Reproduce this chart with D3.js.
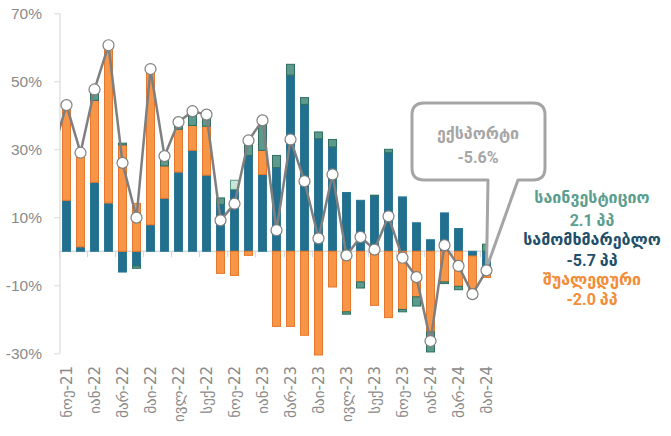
<!DOCTYPE html>
<html>
<head>
<meta charset="utf-8">
<script src="https://cdn.jsdelivr.net/npm/d3@7"></script>
<style>
  body { margin: 0; background: #fff; }
  svg { display: block; font-family: Roboto, 'DejaVu Sans', sans-serif; }
</style>
</head>
<body>
<div id="chart"></div>
<script>
const months = ['ნოე-21', 'დეკ-21', 'იან-22', 'თებ-22', 'მარ-22', 'აპრ-22', 'მაი-22', 'ივნ-22',
  'ივლ-22', 'აგვ-22', 'სექ-22', 'ოქტ-22', 'ნოე-22', 'დეკ-22', 'იან-23', 'თებ-23', 'მარ-23',
  'აპრ-23', 'მაი-23', 'ივნ-23', 'ივლ-23', 'აგვ-23', 'სექ-23', 'ოქტ-23', 'ნოე-23', 'დეკ-23',
  'იან-24', 'თებ-24', 'მარ-24', 'აპრ-24', 'მაი-24'];

// contributions, percentage points
const consumption = [15.0, 1.3, 20.3, 14.2, -6.1, -4.3, 7.8, 15.6, 23.3, 29.7, 22.4, 13.8, 18.2,
  28.2, 22.6, 24.6, 51.8, 43.2, 33.1, 30.7, 17.3, 15.0, 16.3, 29.0, 16.0, 8.4, 3.4, 11.3, 6.7,
  -1.4, -5.7];
const intermediate = [27.0, 27.0, 24.1, 45.5, 31.3, 14.1, 46.0, 9.5, 12.6, 7.3, 14.4, -6.5, -7.1,
  -1.2, 7.1, -22.1, -22.1, -24.7, -30.5, -10.5, -17.8, -9.0, -15.9, -19.5, -17.1, -13.4, -23.7,
  -9.0, -10.3, -11.7, -2.0];
const investment = [0, 0, 2.5, 0, 0.5, -0.7, 0, 2.5, 1.2, 3.5, 2.8, 1.9, 2.7, 3.2, 8.0, 3.6, 3.2,
  2.0, 2.0, 2.2, -0.7, -1.8, 0.2, 1.0, -0.7, -2.7, -5.9, -0.5, -1.0, 0, 2.1];

// total export growth, %
const exportGrowth = [43.0, 29.0, 47.6, 60.6, 26.0, 9.9, 53.6, 28.0, 38.0, 41.2, 40.2, 9.1, 14.0,
  32.6, 38.5, 6.2, 32.9, 20.6, 3.8, 22.6, -1.2, 4.2, 0.5, 10.3, -1.9, -7.6, -26.4, 1.8, -4.3,
  -12.6, -5.6];
const previousExportGrowth = 29.0; // month before the window, only its segment shows

const yTicks = [-30, -10, 10, 30, 50, 70];
const paleInvestmentMonths = ['ნოე-22'];

const WIDTH = 671;
const HEIGHT = 436;
const LEFT = 59.5;
const RIGHT = 493.5;
const TOP = 13.3;
const BOTTOM = 353.3;

const colors = {
  consumption: '#236f8e',
  intermediate: '#f79646',
  investment: '#5b9a8c',
};
const strokes = {
  consumption: '#2a7796',
  intermediate: '#e8772c',
  investment: '#2f6e5f',
};

const rows = months.map((month, i) => ({
  month,
  consumption: consumption[i],
  intermediate: intermediate[i],
  investment: investment[i],
}));

const series = d3
  .stack()
  .keys(['consumption', 'intermediate', 'investment'])
  .offset(d3.stackOffsetDiverging)(rows);

const xScale = d3
  .scaleBand()
  .domain(months)
  .range([LEFT, RIGHT])
  .paddingInner(0.36)
  .paddingOuter(0.18);
const yScale = d3.scaleLinear().domain([-30, 70]).range([BOTTOM, TOP]);

const center = (month) => xScale(month) + xScale.bandwidth() / 2;

const svg = d3
  .select('#chart')
  .append('svg')
  .attr('width', WIDTH)
  .attr('height', HEIGHT);

svg
  .append('defs')
  .append('clipPath')
  .attr('id', 'plot-clip')
  .append('rect')
  .attr('x', 60)
  .attr('y', 0)
  .attr('width', RIGHT - 60)
  .attr('height', HEIGHT);

// y axis
const axisLeft = d3
  .axisLeft(yScale)
  .tickValues(yTicks)
  .tickFormat((d) => `${d}%`)
  .tickSize(6)
  .tickPadding(12);

const yAxis = svg
  .append('g')
  .attr('transform', `translate(${60}, 0)`)
  .call(axisLeft);
yAxis.select('.domain').attr('stroke', '#d9d9d9').attr('stroke-width', 1.2)
  .attr('d', `M0,${TOP}V${BOTTOM}`);
yAxis.selectAll('.tick line').attr('stroke', '#d9d9d9');
yAxis
  .selectAll('.tick text')
  .attr('fill', '#8a8a8a')
  .style('font-size', '15.5px');

// category ticks on the zero line, every second month boundary
svg
  .append('g')
  .selectAll('line')
  .data(months.filter((_, i) => i % 2 === 0))
  .join('line')
  .attr('x1', (m) => Math.round(xScale(m) - xScale.step() * 0.18) + 0.5)
  .attr('x2', (m) => Math.round(xScale(m) - xScale.step() * 0.18) + 0.5)
  .attr('y1', yScale(0))
  .attr('y2', yScale(0) + 6)
  .attr('stroke', '#d9d9d9')
  .attr('stroke-width', 1.2);

// zero line
svg
  .append('line')
  .attr('x1', 60)
  .attr('x2', RIGHT)
  .attr('y1', yScale(0))
  .attr('y2', yScale(0))
  .attr('stroke', '#d9d9d9')
  .attr('stroke-width', 1.5);

// x labels
svg
  .append('g')
  .selectAll('text')
  .data(months.filter((_, i) => i % 2 === 0))
  .join('text')
  .attr('transform', (m) => `translate(${center(m) + 5.5}, ${366}) rotate(-90)`)
  .attr('text-anchor', 'end')
  .attr('fill', '#8a8a8a')
  .style('font-family', "'DejaVu Sans', sans-serif")
  .style('font-size', '15px')
  .text((m) => m);

// stacked bars
const bars = svg.append('g').attr('clip-path', 'url(#plot-clip)');
series.forEach((layer) => {
  bars
    .append('g')
    .selectAll('rect')
    .data(layer.filter((d) => d[1] - d[0] !== 0))
    .join('rect')
    .attr('x', (d) => xScale(d.data.month) + 0.5)
    .attr('width', xScale.bandwidth() - 1)
    .attr('y', (d) => yScale(Math.max(d[0], d[1])))
    .attr('height', (d) => Math.abs(yScale(d[0]) - yScale(d[1])))
    .attr('fill', (d) =>
      layer.key === 'investment' && paleInvestmentMonths.includes(d.data.month)
        ? '#c8e5d7'
        : colors[layer.key]
    )
    .attr('stroke', (d) =>
      layer.key === 'investment' && paleInvestmentMonths.includes(d.data.month)
        ? '#5b9a8c'
        : strokes[layer.key]
    )
    .attr('stroke-width', 1);
});

// callout for the last export value
const last = months[months.length - 1];
const tipX = center(last);
const tipY = yScale(exportGrowth[exportGrowth.length - 1]) - 2;
const box = { left: 412, right: 545, top: 103, bottom: 180, r: 12 };
svg
  .append('path')
  .attr(
    'd',
    `M${box.left + box.r},${box.top}H${box.right - box.r}` +
      `Q${box.right},${box.top} ${box.right},${box.top + box.r}` +
      `V${box.bottom - box.r}Q${box.right},${box.bottom} ${box.right - box.r},${box.bottom}` +
      `H${518}L${tipX},${tipY}L${488},${box.bottom}` +
      `H${box.left + box.r}Q${box.left},${box.bottom} ${box.left},${box.bottom - box.r}` +
      `V${box.top + box.r}Q${box.left},${box.top} ${box.left + box.r},${box.top}Z`
  )
  .attr('fill', '#fff')
  .attr('stroke', '#a5a5a5')
  .attr('stroke-width', 3)
  .attr('stroke-linejoin', 'round');

svg
  .append('g')
  .selectAll('text')
  .data(['ექსპორტი', `${exportGrowth[exportGrowth.length - 1].toFixed(1)}%`])
  .join('text')
  .attr('x', 478)
  .attr('y', (_, i) => 139 + i * 24)
  .attr('text-anchor', 'middle')
  .attr('fill', '#a6a6a6')
  .style('font-weight', 'bold')
  .style('font-size', '16px')
  .text((t) => t);

// export line
const linePoints = [[center(months[0]) - xScale.step(), previousExportGrowth]].concat(
  months.map((m, i) => [center(m), exportGrowth[i]])
);
svg
  .append('path')
  .attr('clip-path', 'url(#plot-clip)')
  .attr('d', d3.line().x((p) => p[0]).y((p) => yScale(p[1]))(linePoints))
  .attr('fill', 'none')
  .attr('stroke', '#7f7f7f')
  .attr('stroke-width', 2.5)
  .attr('stroke-linejoin', 'round');

svg
  .append('g')
  .selectAll('circle')
  .data(months)
  .join('circle')
  .attr('cx', (m) => center(m))
  .attr('cy', (_, i) => yScale(exportGrowth[i]))
  .attr('r', 5.5)
  .attr('fill', '#fff')
  .attr('stroke', '#7f7f7f')
  .attr('stroke-width', 1.2);

// component labels for the last month
const lastIndex = months.length - 1;
const fmt = (v) => `${v.toFixed(1)} პპ`;
const labels = [
  { text: 'საინვესტიციო', y: 203, color: '#5b9e8f' },
  { text: fmt(investment[lastIndex]), y: 226, color: '#5b9e8f' },
  { text: 'სამომხმარებლო', y: 245, color: '#1f4f69' },
  { text: fmt(consumption[lastIndex]), y: 266, color: '#1f4f69' },
  { text: 'შუალედური', y: 285, color: '#f28c38' },
  { text: fmt(intermediate[lastIndex]), y: 305, color: '#f28c38' },
];
svg
  .append('g')
  .selectAll('text')
  .data(labels)
  .join('text')
  .attr('x', 592)
  .attr('y', (d) => d.y)
  .attr('text-anchor', 'middle')
  .attr('fill', (d) => d.color)
  .style('font-weight', 'bold')
  .style('font-size', '16px')
  .text((d) => d.text);
</script>
</body>
</html>
